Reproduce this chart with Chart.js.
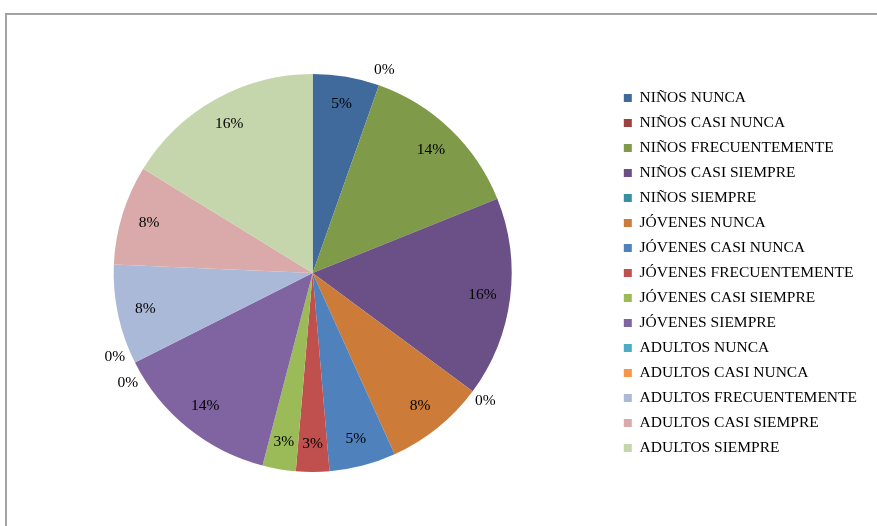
<!DOCTYPE html>
<html>
<head>
<meta charset="utf-8">
<script src="https://cdn.jsdelivr.net/npm/chart.js@4"></script>
<style>
  html, body { margin: 0; padding: 0; background: #fff; }
  #wrap { position: relative; width: 877px; height: 526px; overflow: hidden; }
  #frame { position: absolute; left: 5px; top: 13px; width: 900px; height: 600px; border: 2px solid #a3a3a3; }
  canvas { position: absolute; left: 0; top: 0; }
</style>
</head>
<body>
<div id="wrap">
  <div id="frame"></div>
  <canvas id="chart" width="877" height="526"></canvas>
</div>
<script>
// categories in drawing order (clockwise from 12 o'clock)
const categories = [
  'NIÑOS NUNCA', 'NIÑOS CASI NUNCA', 'NIÑOS FRECUENTEMENTE', 'NIÑOS CASI SIEMPRE', 'NIÑOS SIEMPRE',
  'JÓVENES NUNCA', 'JÓVENES CASI NUNCA', 'JÓVENES FRECUENTEMENTE', 'JÓVENES CASI SIEMPRE', 'JÓVENES SIEMPRE',
  'ADULTOS NUNCA', 'ADULTOS CASI NUNCA', 'ADULTOS FRECUENTEMENTE', 'ADULTOS CASI SIEMPRE', 'ADULTOS SIEMPRE'
];
// response counts (37 in total)
const counts = [2, 0, 5, 6, 0, 3, 2, 1, 1, 5, 0, 0, 3, 3, 6];

const sliceColors = [
  '#40699c', '#9e413e', '#7f9a48', '#6a5087', '#3b8fa4',
  '#cc7b38', '#4f81bd', '#c0504d', '#9bbb59', '#8064a2',
  '#4bacc6', '#f79646', '#aab9d7', '#d9aaa9', '#c6d6ac'
];

const serif = "'Liberation Serif', 'Times New Roman', serif";

// percent labels: inside for non-zero slices, outside for empty ones
const pieLabels = {
  id: 'pieLabels',
  afterDatasetsDraw(chart) {
    const ctx = chart.ctx;
    const meta = chart.getDatasetMeta(0);
    const data = chart.data.datasets[0].data;
    const total = data.reduce((a, b) => a + b, 0);
    const placed = [];
    ctx.save();
    ctx.font = '15.5px ' + serif;
    ctx.fillStyle = '#000';
    ctx.textAlign = 'center';
    ctx.textBaseline = 'middle';
    meta.data.forEach((arc, i) => {
      const p = arc.getProps(['x', 'y', 'startAngle', 'endAngle', 'outerRadius'], true);
      const mid = (p.startAngle + p.endAngle) / 2;
      const text = Math.round(data[i] / total * 100) + '%';
      if (data[i] > 0) {
        const r = p.outerRadius * 0.86;
        ctx.fillText(text, p.x + Math.cos(mid) * r, p.y + Math.sin(mid) * r);
      } else {
        const r = p.outerRadius * 1.08;
        const lbl = { x: p.x + Math.cos(mid) * r, y: p.y + Math.sin(mid) * r, text, cx: p.x, cy: p.y, r };
        const prev = placed.find(q => Math.abs(q.y - lbl.y) < 20 && Math.abs(q.x - lbl.x) < 30);
        if (prev) {
          const c = (prev.y + lbl.y) / 2;
          prev.y = c - 13; lbl.y = c + 13;
          [prev, lbl].forEach(q => {
            const dy = q.y - q.cy;
            const dx = Math.sqrt(Math.max(q.r * q.r - dy * dy, 0));
            q.x = q.x < q.cx ? q.cx - dx : q.cx + dx;
          });
        }
        placed.push(lbl);
      }
    });
    placed.forEach(q => ctx.fillText(q.text, q.x, q.y));
    ctx.restore();
  }
};

new Chart(document.getElementById('chart'), {
  type: 'pie',
  data: {
    labels: categories,
    datasets: [{
      data: counts,
      backgroundColor: sliceColors,
      borderWidth: 0
    }]
  },
  options: {
    responsive: false,
    animation: false,
    layout: { padding: { left: 11, top: 74, bottom: 54, right: 10 } },
    plugins: {
      tooltip: { enabled: false },
      legend: {
        position: 'right',
        labels: {
          boxWidth: 8,
          boxHeight: 8,
          padding: 9.5,
          color: '#000',
          font: { family: serif, size: 15.5 }
        }
      }
    }
  },
  plugins: [pieLabels]
});
</script>
</body>
</html>
